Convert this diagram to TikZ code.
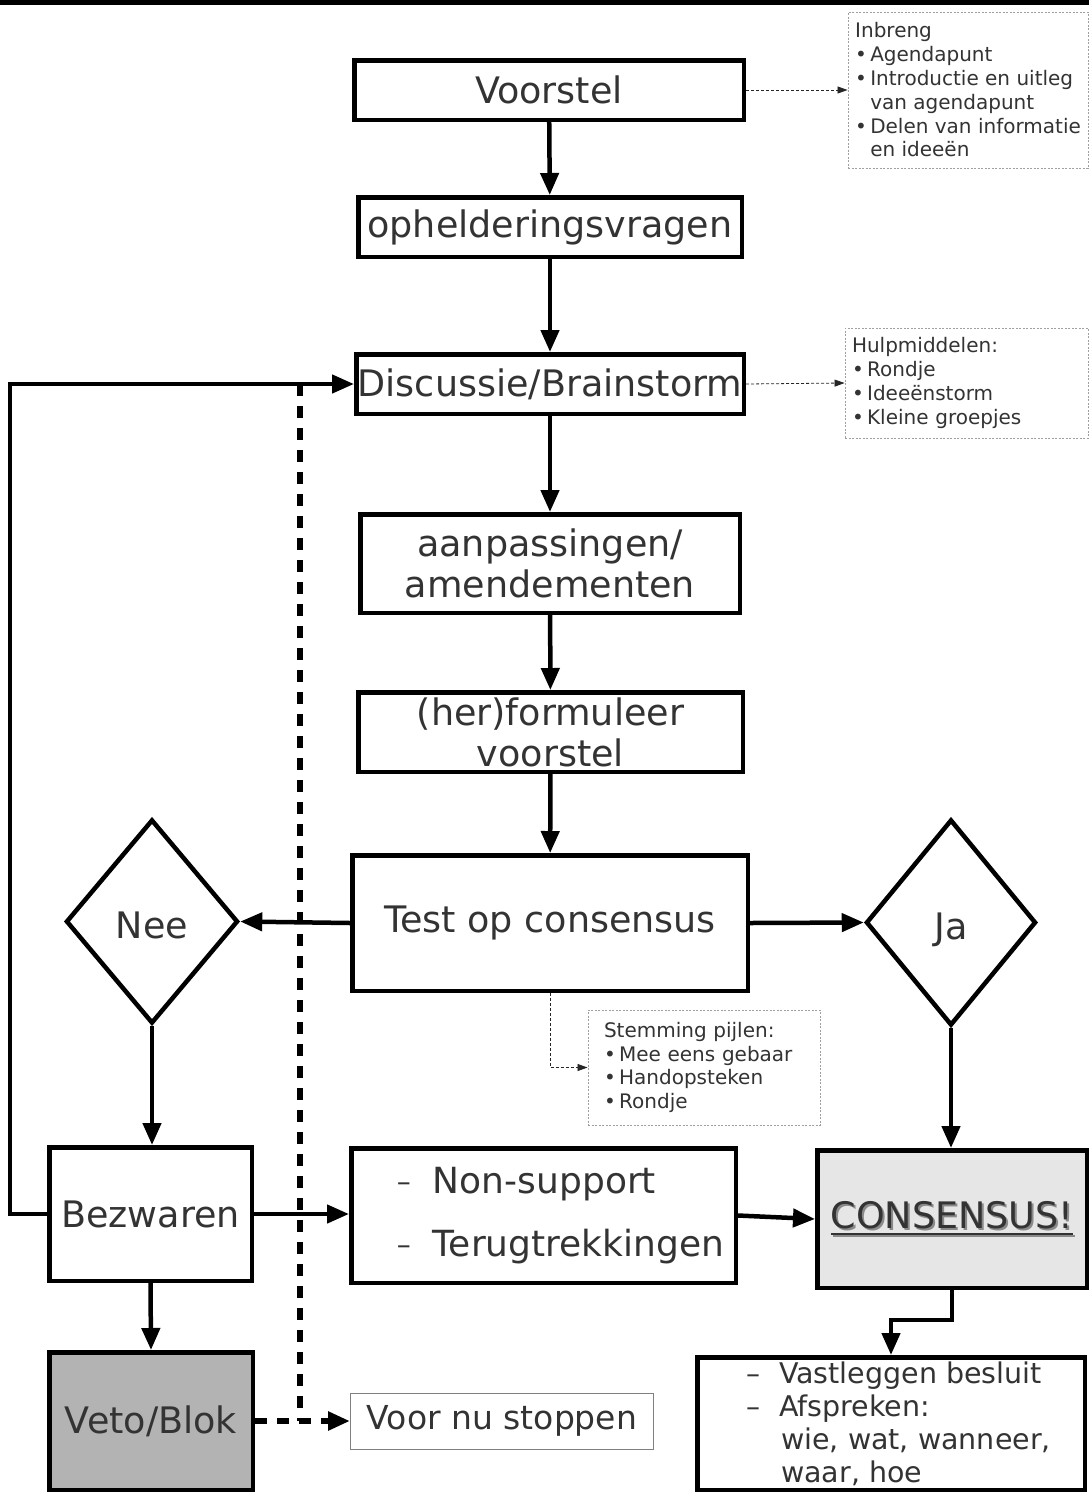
\documentclass[tikz,border=0pt]{standalone}
\usepackage{fontspec}
\setmainfont{DejaVu Sans}
\usetikzlibrary{arrows.meta,shapes.geometric,calc}
\definecolor{txt}{HTML}{333333}
\definecolor{lightfill}{HTML}{E6E6E6}
\definecolor{darkfill}{HTML}{B3B3B3}
\definecolor{notegray}{HTML}{A0A0A0}
\definecolor{shadowgray}{HTML}{8A8A8A}
\newcommand\ulx[1]{\setbox0\hbox{#1}\rlap{\raisebox{-7pt}{\rule{\wd0}{2.5pt}}}\box0}
\newcommand\dashitem[2]{\makebox[#1][l]{\raisebox{#2}{\fontsize{28}{28}\selectfont –}}}
\begin{document}
\begin{tikzpicture}[x=1pt,y=-1pt,
  box/.style={draw=black, line width=4.5pt, fill=white, inner sep=0pt, text=txt, font=\fontsize{36.5}{41}\selectfont, align=center},
  dia/.style={diamond, draw=black, line width=4.5pt, fill=white, inner sep=0pt, text=txt, font=\fontsize{36.5}{41}\selectfont, text height=33pt, text depth=0pt},
  note/.style={draw=notegray, line width=0.9pt, dash pattern=on 2pt off 1.5pt, fill=white, inner xsep=0pt, inner ysep=0pt, text=txt, font=\fontsize{20}{23.8}\selectfont, align=left},
  flow/.style={line width=4.5pt, -{Triangle[length=22pt,width=18pt]}},
  dflow/.style={line width=5.5pt, dash pattern=on 12pt off 10pt},
  nflow/.style={line width=0.8pt, draw=black!85, dash pattern=on 3pt off 2pt, -{Triangle[length=10pt,width=7pt]}},
]
\useasboundingbox (0,0) rectangle (1089,1492);
\fill[black] (0,0) rectangle (1089,5);

% main boxes
\node[box, minimum width=389.5pt, minimum height=59.5pt] (voorstel) at (549,90) {Voorstel};
\node[box, minimum width=383.5pt, minimum height=59.5pt] (ophel) at (550,227) {ophelderingsvragen};
\node[box, minimum width=387.5pt, minimum height=59.5pt] (disc) at (550,384) {Discussie/Brainstorm};
\node[box, minimum width=379.5pt, minimum height=98.5pt] (aanp) at (550,563.5) {aanpassingen/\\amendementen};
\node[box, minimum width=384.5pt, minimum height=79.5pt] (herf) at (550.5,732) {(her)formuleer\\voorstel};
\node[box, minimum width=395.5pt, minimum height=135.5pt] (test) at (550,923) {Test op consensus};
\node[dia, minimum width=172pt, minimum height=204pt] (nee) at (152,921.5) {Nee};
\node[dia, minimum width=170pt, minimum height=206pt] (ja) at (951,922.5) {Ja};
\node[box, minimum width=202.5pt, minimum height=133.5pt] (bezw) at (150.5,1214) {Bezwaren};
\node[box, minimum width=384.5pt, minimum height=134.5pt, align=left, font=\fontsize{36}{63}\selectfont] (nons) at (543.5,1215.5)
  {\hspace*{34pt}\dashitem{36pt}{1.5pt}Non-support\\ \hspace*{34pt}\dashitem{36pt}{1.5pt}Terugtrekkingen};
\node[box, fill=lightfill, minimum width=269.5pt, minimum height=137.5pt] (cons) at (952,1219)
  {\rlap{\hspace*{2pt}\raisebox{-2pt}{\color{shadowgray}\ulx{CONSENSUS!}}}\ulx{CONSENSUS!}};
\node[box, fill=darkfill, minimum width=203.5pt, minimum height=137.5pt] (veto) at (151,1421) {Veto/Blok};
\node[draw=black!50, line width=1pt, inner sep=0pt, minimum width=303pt, minimum height=56pt, text=txt, font=\fontsize{33}{38}\selectfont] (voor) at (502,1421) {Voor nu stoppen};
\node[box, minimum width=387.5pt, minimum height=132.5pt, align=left, font=\fontsize{28.5}{33}\selectfont] (vast) at (891,1423.5)
  {\hspace*{15pt}\dashitem{33pt}{0pt}Vastleggen besluit\\ \hspace*{15pt}\dashitem{33pt}{0pt}Afspreken:\\ \hspace*{50pt}wie, wat, wanneer,\\ \hspace*{50pt}waar, hoe};

% notes
\node[note, minimum width=240pt, minimum height=156pt] (inbr) at (968,90)
  {Inbreng\\ •\,Agendapunt\\ •\,Introductie en uitleg\\ \phantom{•\,}van agendapunt\\ •\,Delen van informatie\\ \phantom{•\,}en ideeën};
\node[note, inner xsep=7pt, text width=229pt, minimum height=110pt] (hulp) at (966.5,383)
  {Hulpmiddelen:\\ •\,Rondje\\ •\,Ideeënstorm\\ •\,Kleine groepjes};
\node[note, inner xsep=16pt, text width=200pt, minimum height=115pt] (stem) at (704,1067.5)
  {Stemming pijlen:\\ •\,Mee eens gebaar\\ •\,Handopsteken\\ •\,Rondje};

% connectors
\draw[flow] (voorstel) -- (ophel);
\draw[flow] (ophel) -- (disc);
\draw[flow] (disc) -- (aanp);
\draw[flow] (aanp) -- (herf);
\draw[flow] (herf) -- (test);
\draw[flow] (test.west) -- (nee.east);
\draw[flow] (test.east) -- (ja.west);
\draw[flow] (nee.south) -- (bezw.north -| nee.south);
\draw[flow] (ja.south) -- (cons.north -| ja.south);
\draw[flow] (bezw.east) -- (bezw.east -| nons.west);
\draw[flow] (nons.east) -- (cons.west);
\draw[flow] (bezw.south) -- (veto.north);
\draw[flow] (bezw.west) -- ++(-37,0) |- (disc.west);
\draw[flow] (cons.south) -- ++(0,30) -| (vast.north);

\coordinate (dtop) at (300,384);
\draw[dflow] (dtop) -- (dtop |- voor.west);
\draw[dflow, -{Triangle[length=22pt,width=18pt]}] (veto.east) -- (voor.west);

\draw[nflow] (voorstel.east) -- (inbr.west);
\draw[nflow] (disc.east) -- (hulp.west);
\draw[nflow] (test.south) |- (stem.west);
\end{tikzpicture}
\end{document}
